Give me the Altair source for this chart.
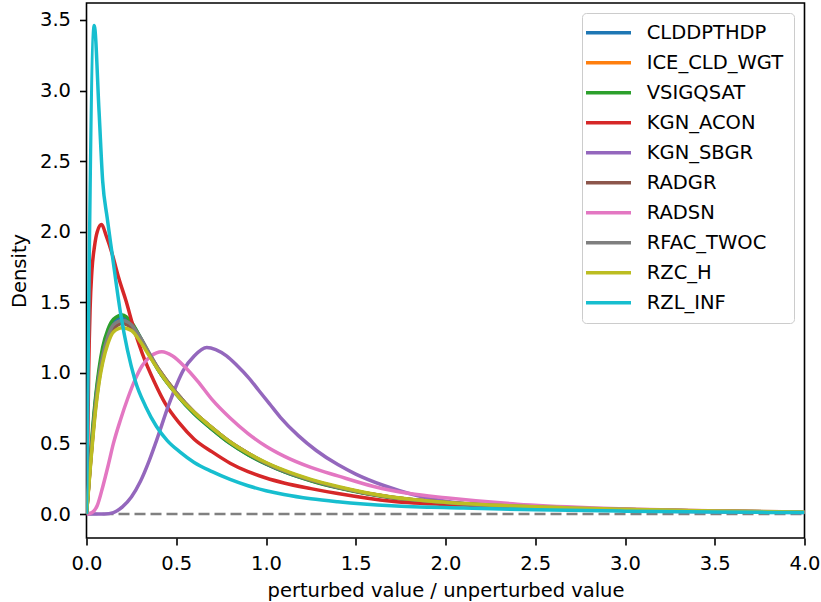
import altair as alt
import pandas as pd

names = ["CLDDPTHDP", "ICE_CLD_WGT", "VSIGQSAT", "KGN_ACON", "KGN_SBGR",
         "RADGR", "RADSN", "RFAC_TWOC", "RZC_H", "RZL_INF"]
colors = ["#1f77b4", "#ff7f0e", "#2ca02c", "#d62728", "#9467bd",
          "#8c564b", "#e377c2", "#7f7f7f", "#bcbd22", "#17becf"]

x_ticks = [0.0, 0.5, 1.0, 1.5, 2.0, 2.5, 3.0, 3.5, 4.0]
y_ticks = [0.0, 0.5, 1.0, 1.5, 2.0, 2.5, 3.0, 3.5]

# shared x positions for the six near-identical curves
grp_x = [0, 0.01, 0.02, 0.035, 0.05, 0.07, 0.09, 0.12, 0.15, 0.2, 0.25, 0.3, 0.35, 0.4,
         0.5, 0.6, 0.7, 0.8, 0.9, 1.0, 1.1, 1.25, 1.4, 1.7, 2.0, 2.5, 3.0, 3.5, 4.0]
clddpthdp_y = [0, 0.17, 0.35, 0.59, 0.80, 1.00, 1.15, 1.29, 1.36, 1.39, 1.35, 1.25, 1.13, 1.02,
               0.85, 0.71, 0.60, 0.50, 0.42, 0.355, 0.30, 0.237, 0.187, 0.116, 0.081, 0.05, 0.032, 0.02, 0.013]
ice_cld_wgt_y = [0, 0.16, 0.33, 0.56, 0.77, 0.97, 1.11, 1.25, 1.33, 1.36, 1.33, 1.24, 1.13, 1.03,
                 0.86, 0.72, 0.61, 0.51, 0.43, 0.36, 0.305, 0.24, 0.19, 0.118, 0.082, 0.05, 0.032, 0.02, 0.013]
vsigqsat_y = [0, 0.20, 0.38, 0.62, 0.82, 1.03, 1.18, 1.31, 1.38, 1.41, 1.36, 1.25, 1.13, 1.02,
              0.85, 0.71, 0.60, 0.50, 0.42, 0.355, 0.30, 0.235, 0.185, 0.115, 0.08, 0.05, 0.032, 0.02, 0.013]
radgr_y = [0, 0.16, 0.32, 0.55, 0.75, 0.95, 1.09, 1.23, 1.31, 1.35, 1.32, 1.24, 1.13, 1.03,
           0.86, 0.72, 0.61, 0.51, 0.43, 0.36, 0.305, 0.24, 0.19, 0.118, 0.082, 0.05, 0.032, 0.02, 0.013]
rfac_twoc_y = [0, 0.17, 0.34, 0.57, 0.78, 0.98, 1.12, 1.26, 1.34, 1.37, 1.34, 1.25, 1.14, 1.03,
               0.86, 0.72, 0.61, 0.51, 0.43, 0.36, 0.305, 0.24, 0.19, 0.118, 0.082, 0.05, 0.032, 0.02, 0.013]
rzc_h_y = [0, 0.15, 0.31, 0.53, 0.73, 0.93, 1.07, 1.21, 1.29, 1.32, 1.30, 1.22, 1.12, 1.02,
           0.85, 0.72, 0.61, 0.51, 0.43, 0.365, 0.31, 0.245, 0.195, 0.12, 0.083, 0.051, 0.033, 0.021, 0.014]

kgn_acon_x = [0, 0.006, 0.012, 0.02, 0.03, 0.045, 0.06, 0.084, 0.11, 0.146, 0.18, 0.22, 0.26, 0.31,
              0.38, 0.44, 0.52, 0.60, 0.70, 0.80, 0.90, 1.0, 1.1, 1.25, 1.4, 1.7, 2.1, 2.5, 3.0, 3.5, 4.0]
kgn_acon_y = [0, 0.4, 1.0, 1.45, 1.72, 1.9, 2.0, 2.05, 1.97, 1.83, 1.67, 1.51, 1.33, 1.14,
              0.93, 0.78, 0.64, 0.53, 0.44, 0.36, 0.30, 0.255, 0.22, 0.18, 0.145, 0.09, 0.063, 0.045, 0.03, 0.02, 0.014]

kgn_sbgr_x = [0, 0.1, 0.15, 0.2, 0.25, 0.3, 0.35, 0.39, 0.46, 0.54, 0.6, 0.67, 0.72, 0.78, 0.84,
              0.90, 0.96, 1.02, 1.08, 1.18, 1.28, 1.4, 1.5, 1.66, 1.84, 2.03, 2.4, 2.8, 3.2, 3.6, 4.0]
kgn_sbgr_y = [0, 0.0, 0.01, 0.05, 0.12, 0.23, 0.38, 0.52, 0.78, 1.02, 1.12, 1.18, 1.165, 1.12, 1.05,
              0.97, 0.875, 0.78, 0.685, 0.555, 0.45, 0.35, 0.283, 0.2, 0.13, 0.085, 0.047, 0.03, 0.02, 0.014, 0.01]

radsn_x = [0, 0.03, 0.06, 0.09, 0.12, 0.15, 0.19, 0.23, 0.27, 0.31, 0.36, 0.42, 0.48, 0.55, 0.62,
           0.70, 0.80, 0.90, 1.0, 1.1, 1.25, 1.4, 1.6, 1.8, 2.0, 2.4, 2.8, 3.2, 3.6, 4.0]
radsn_y = [0, 0.01, 0.06, 0.19, 0.34, 0.50, 0.67, 0.82, 0.95, 1.05, 1.12, 1.15, 1.12, 1.04, 0.94,
           0.81, 0.68, 0.57, 0.48, 0.41, 0.33, 0.27, 0.195, 0.145, 0.115, 0.07, 0.045, 0.03, 0.02, 0.014]

rzl_inf_x = [0, 0.043, 0.07, 0.09, 0.115, 0.142, 0.19, 0.27, 0.33, 0.39, 0.45, 0.52, 0.60, 0.70,
             0.80, 0.90, 1.0, 1.1, 1.25, 1.4, 1.7, 2.1, 2.5, 3.0, 3.5, 4.0]
rzl_inf_y = [0, 3.46, 2.85, 2.36, 2.10, 1.85, 1.42, 0.95, 0.76, 0.62, 0.52, 0.44, 0.365, 0.30,
             0.245, 0.20, 0.165, 0.138, 0.108, 0.087, 0.058, 0.042, 0.03, 0.02, 0.014, 0.01]

baseline_x = [0.0, 4.0]
baseline_y = [0.0, 0.0]

series = [
    ("CLDDPTHDP", grp_x, clddpthdp_y),
    ("ICE_CLD_WGT", grp_x, ice_cld_wgt_y),
    ("VSIGQSAT", grp_x, vsigqsat_y),
    ("KGN_ACON", kgn_acon_x, kgn_acon_y),
    ("KGN_SBGR", kgn_sbgr_x, kgn_sbgr_y),
    ("RADGR", grp_x, radgr_y),
    ("RADSN", radsn_x, radsn_y),
    ("RFAC_TWOC", grp_x, rfac_twoc_y),
    ("RZC_H", grp_x, rzc_h_y),
    ("RZL_INF", rzl_inf_x, rzl_inf_y),
]

rows = []
for name, xs, ys in series:
    for xv, yv in zip(xs, ys):
        rows.append({"param": name, "x": xv, "y": yv})
df = pd.DataFrame(rows)
base_df = pd.DataFrame({"x": baseline_x, "y": baseline_y})

x_scale = alt.Scale(domain=[0, 4], nice=False, zero=False)
y_scale = alt.Scale(domain=[-0.17, 3.62], nice=False, zero=False)

dashed = alt.Chart(base_df).mark_line(
    color="#808080", strokeDash=[11, 5], strokeWidth=2.5, clip=True
).encode(
    x=alt.X("x:Q", scale=x_scale,
            axis=alt.Axis(values=x_ticks, format=".1f", title="perturbed value / unperturbed value",
                          labelPadding=9, titlePadding=9, labelFlush=False)),
    y=alt.Y("y:Q", scale=y_scale,
            axis=alt.Axis(values=y_ticks, format=".1f", title="Density",
                          labelPadding=9, titlePadding=10, labelFlush=False)),
)

lines = alt.Chart(df).mark_line(
    strokeWidth=3.5, interpolate="monotone", clip=True
).encode(
    x=alt.X("x:Q", scale=x_scale),
    y=alt.Y("y:Q", scale=y_scale),
    color=alt.Color("param:N", scale=alt.Scale(domain=names, range=colors), sort=names,
                    legend=alt.Legend(title=None, orient="none", legendX=495.5, legendY=10)),
    order=alt.Order("x:Q"),
)

chart = alt.layer(dashed, lines).properties(
    width=718, height=535,
    padding={"left": 86.5, "top": 3, "right": 16.5, "bottom": 64},
    autosize="none",
).configure_view(
    stroke="black", strokeWidth=1.6
).configure_axis(
    labelFont="DejaVu Sans", labelFontSize=19.5, labelColor="black",
    titleFont="DejaVu Sans", titleFontSize=19.5, titleFontWeight="normal", titleColor="black",
    tickSize=7, tickWidth=1.6, tickColor="black", domain=False, grid=False,
).configure_legend(
    padding=10, rowPadding=9.0,
    fillColor="rgba(255,255,255,0.8)", strokeColor="#cccccc", cornerRadius=4,
    symbolType="M-3,0H3", symbolSize=225, symbolStrokeWidth=3.5, symbolOffset=6.75,
    labelOffset=28.5, labelFont="DejaVu Sans", labelFontSize=19.5, labelColor="black",
    labelLimit=400,
)

chart.save("out.html", embed_options={"renderer": "svg", "actions": False})
